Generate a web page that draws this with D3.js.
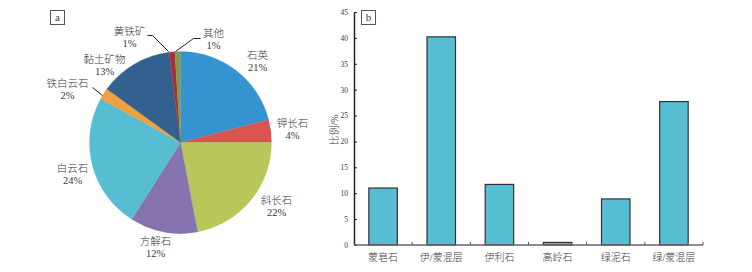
<!DOCTYPE html>
<html><head><meta charset="utf-8">
<script src="https://cdn.jsdelivr.net/npm/d3@7"></script>
<style>body{margin:0;background:#fff}svg{display:block}text{font-family:"Liberation Serif","Times New Roman","Noto Sans CJK SC",serif;fill:#3a3a3a;font-weight:300}</style>
</head><body><svg id="c" width="752" height="272"></svg>
<script>
// ---- data: pie (a) ----
const minerals = ["石英","钾长石","斜长石","方解石","白云石","铁白云石","黏土矿物","黄铁矿","其他"];
const mineralPct = [21,4,22,12,24,2,13,1,1];
const mineralColors = ["#3594cf","#d9534f","#b8c65a","#8674b0","#56bdd3","#f0a03c","#32618f","#a5303a","#7f9c4c"];
// ---- data: bar (b) ----
const clays = ["蒙皂石","伊/蒙混层","伊利石","高岭石","绿泥石","绿/蒙混层"];
const clayPct = [11.0,40.2,11.7,0.5,8.9,27.7];
const yTicks = [0,5,10,15,20,25,30,35,40,45];

// label placement (offsets from pie centre, px) and leader lines
const labelOffsets = [[77,-82],[112,-14],[96,63],[-25,104],[-108,31],[-113,-54],[-76,-78],[-51,-106],[33,-104]];
const leaders = {5:[[-88,-55],[-78,-47]], 7:[[-33,-107],[-28,-107],[-12,-91]], 8:[[20,-104],[13,-104],[-5,-91]]};

const svg = d3.select("#c");

// ===== Pie =====
const cx = 180.5, cy = 142.5, R = 91;
const pie = d3.pie().sort(null).value(d=>d)(mineralPct);
const arc = d3.arc().innerRadius(0).outerRadius(R);
const gP = svg.append("g").attr("transform",`translate(${cx},${cy})`);
gP.selectAll("path").data(pie).join("path")
  .attr("d",arc).attr("fill",(d,i)=>mineralColors[i]).attr("stroke",(d,i)=>mineralColors[i]).attr("stroke-width",0.3);
Object.entries(leaders).forEach(([k,pts])=>{
  gP.append("path").attr("d",d3.line()(pts)).attr("fill","none").attr("stroke","#222").attr("stroke-width",1);
});
minerals.forEach((m,i)=>{
  const [dx,dy]=labelOffsets[i];
  const t = gP.append("text").attr("text-anchor","middle").attr("font-size",10.5);
  t.append("tspan").attr("x",dx).attr("y",dy-2).text(m);
  t.append("tspan").attr("x",dx).attr("y",dy+10).text(mineralPct[i]+"%");
});
// panel tag a
svg.append("rect").attr("x",50.5).attr("y",10.5).attr("width",14).attr("height",14).attr("fill","#fff").attr("stroke","#555");
svg.append("text").attr("x",57.5).attr("y",21).attr("text-anchor","middle").attr("font-size",11).text("a");

// ===== Bars =====
const x0 = 354, x1 = 703, yTop = 12, yBot = 245;
const x = d3.scaleBand().domain(clays).range([x0,x1]).paddingInner(0.51).paddingOuter(0.255);
const y = d3.scaleLinear().domain([0,45]).range([yBot,yTop]);
svg.append("g").selectAll("rect").data(clayPct).join("rect")
  .attr("x",(d,i)=>x(clays[i])).attr("width",x.bandwidth())
  .attr("y",d=>y(d)).attr("height",d=>y(0)-y(d))
  .attr("fill","#56bdd3").attr("stroke","#333").attr("stroke-width",1.2);
// y axis
const gy = svg.append("g").attr("transform",`translate(${x0},0)`)
  .call(d3.axisLeft(y).tickValues(yTicks).tickSizeInner(-3).tickSizeOuter(0).tickPadding(6));
gy.select(".domain").attr("stroke","#222").attr("stroke-width",1.5);
gy.selectAll(".tick line").attr("stroke","#222");
gy.selectAll(".tick text").attr("font-size",7.5).attr("fill","#444").style("font-family","Liberation Serif");
// x axis
const step = x.step();
const gx = svg.append("g");
gx.append("line").attr("x1",x0).attr("x2",x1).attr("y1",yBot).attr("y2",yBot).attr("stroke","#666").attr("stroke-width",1.5);
d3.range(1,clays.length+1).forEach(i=>{
  const xx = x0 + i*step;
  gx.append("line").attr("x1",xx).attr("x2",xx).attr("y1",yBot).attr("y2",yBot-3).attr("stroke","#555");
});
gx.selectAll("text").data(clays).join("text")
  .attr("x",d=>x(d)+x.bandwidth()/2).attr("y",261).attr("text-anchor","middle").attr("font-size",10).text(d=>d);
// y label
svg.append("text").attr("transform","translate(338,130) rotate(-90)").attr("text-anchor","middle").attr("font-size",10).text("比例/%");
// panel tag b
svg.append("rect").attr("x",361.5).attr("y",10.5).attr("width",14).attr("height",14).attr("fill","#fff").attr("stroke","#555");
svg.append("text").attr("x",368.5).attr("y",21).attr("text-anchor","middle").attr("font-size",11).text("b");
</script></body></html>
